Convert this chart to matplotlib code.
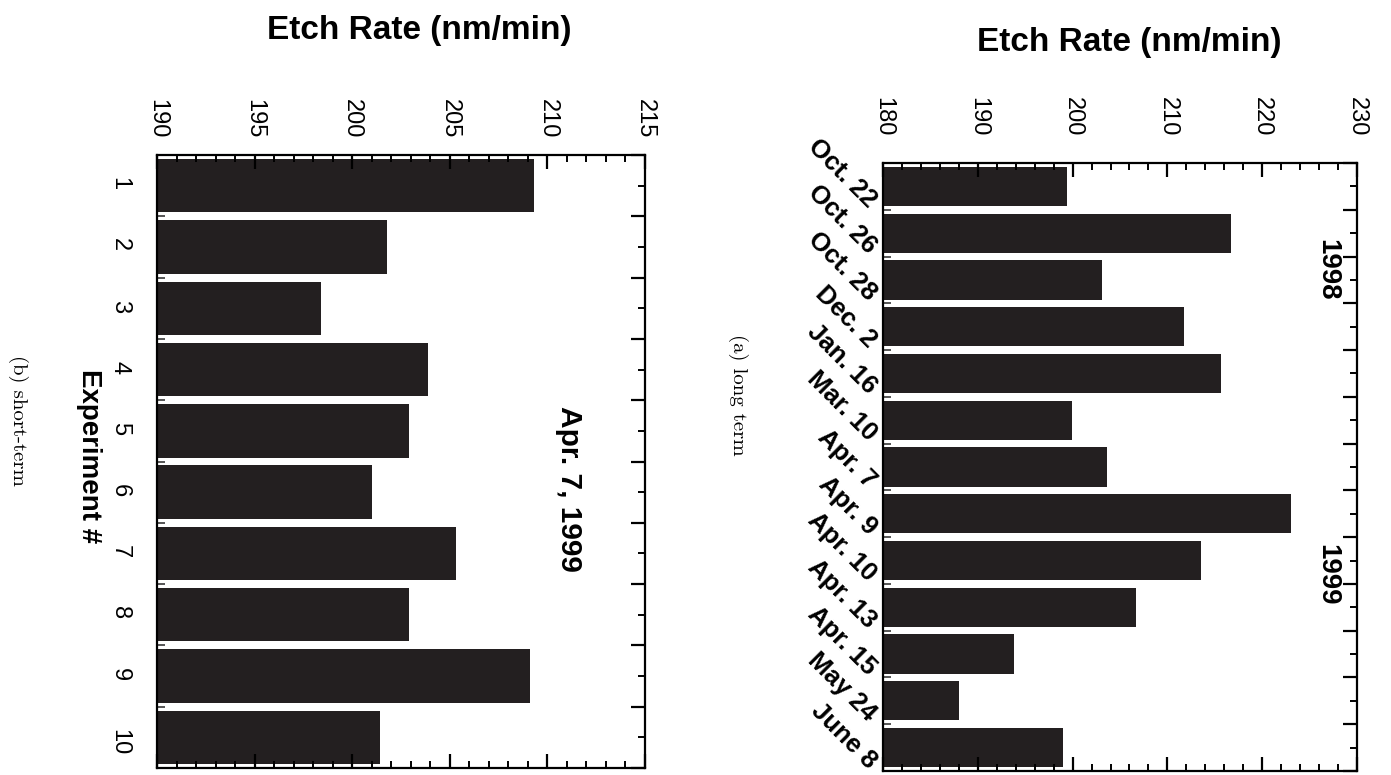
import matplotlib
matplotlib.use('Agg')
import matplotlib.pyplot as plt
import matplotlib.transforms as mtransforms
from matplotlib.ticker import MultipleLocator, FixedLocator

plt.rcParams['font.family'] = ['Liberation Sans', 'DejaVu Sans']

# ---------------- data ----------------
long_dates = ["Oct. 22", "Oct. 26", "Oct. 28", "Dec. 2", "Jan. 16", "Mar. 10",
              "Apr. 7", "Apr. 9", "Apr. 10", "Apr. 13", "Apr. 15", "May 24", "June 8"]
long_rates = [199.4, 216.7, 203.1, 211.8, 215.7, 199.9, 203.6,
              223.0, 213.5, 206.7, 193.8, 188.0, 199.0]
long_ticks = [180, 190, 200, 210, 220, 230]

short_exps = ["1", "2", "3", "4", "5", "6", "7", "8", "9", "10"]
short_rates = [209.3, 201.8, 198.4, 203.9, 202.9, 201.0, 205.3, 202.9, 209.1, 201.4]
short_ticks = [190, 195, 200, 205, 210, 215]

BAR = '#231f20'
W, H = 1391, 775
fig = plt.figure(figsize=(W / 100, H / 100), dpi=100)


def axes_px(l, t, r, b):
    return fig.add_axes([l / W, 1 - b / H, (r - l) / W, (b - t) / H])


def style_value_axis(ax, major, minor, pad):
    ax.xaxis.set_major_locator(FixedLocator(major))
    ax.xaxis.set_minor_locator(MultipleLocator(minor))
    ax.tick_params(axis='x', which='both', direction='in', top=True, bottom=True,
                   labeltop=True, labelbottom=False, labelrotation=-90,
                   labelsize=17, pad=pad)
    ax.tick_params(axis='x', which='major', length=10, width=1.6)
    ax.tick_params(axis='x', which='minor', length=5, width=1.4)
    for s in ax.spines.values():
        s.set_linewidth(1.6)


def right_ticks(ax, n):
    axr = ax.twinx()
    axr.set_ylim(ax.get_ylim())
    axr.yaxis.set_major_locator(FixedLocator([k - 0.5 for k in range(n + 1)]))
    axr.yaxis.set_minor_locator(FixedLocator(list(range(n))))
    axr.tick_params(axis='y', which='both', direction='in', labelright=False)
    axr.tick_params(axis='y', which='major', length=10, width=1.6)
    axr.tick_params(axis='y', which='minor', length=5, width=1.4)
    for s in axr.spines.values():
        s.set_visible(False)
    return axr


# ---------------- panel (a): long term ----------------
axa = axes_px(883, 163, 1357, 771)
na = len(long_rates)
axa.barh(range(na), long_rates, height=0.84, color=BAR)
axa.set_xlim(long_ticks[0], long_ticks[-1])
axa.set_ylim(na - 0.5, -0.5)
style_value_axis(axa, long_ticks, 2, 19)
axa.yaxis.set_major_locator(FixedLocator([]))
axa.yaxis.set_minor_locator(FixedLocator([k - 0.5 for k in range(na + 1)]))
axa.tick_params(axis='y', which='minor', direction='in', left=True, right=False,
                length=6, width=1.4, color='#555555')
right_ticks(axa, na)

trans_a = mtransforms.blended_transform_factory(axa.transAxes, axa.transData)
for i, lab in enumerate(long_dates):
    axa.text(-0.022, i + 0.36, lab, transform=trans_a, rotation=-45,
             rotation_mode='anchor', ha='right', va='center',
             fontsize=18.5, fontweight='bold')

axa.text(226.9, 1.79, '1998', rotation=-90, ha='center', va='center',
         fontsize=20, fontweight='bold')
axa.text(226.9, 8.3, '1999', rotation=-90, ha='center', va='center',
         fontsize=20, fontweight='bold')

fig.text(1129 / W, 1 - 42 / H, 'Etch Rate (nm/min)', ha='center', va='center',
         fontsize=24, fontweight='bold')
fig.text(738 / W, 1 - 395 / H, '(a) long term', rotation=-90, ha='center',
         va='center', fontsize=15, family='cmr10')

# ---------------- panel (b): short term ----------------
axb = axes_px(157, 155, 645, 768)
nb = len(short_rates)
axb.barh(range(nb), short_rates, height=0.87, color=BAR)
axb.set_xlim(short_ticks[0], short_ticks[-1])
axb.set_ylim(nb - 0.5, -0.5)
style_value_axis(axb, short_ticks, 1, 12)
axb.set_yticks(range(nb))
axb.set_yticklabels(short_exps)
axb.yaxis.set_minor_locator(FixedLocator([k - 0.5 for k in range(nb + 1)]))
axb.tick_params(axis='y', which='major', length=0, labelrotation=-90,
                labelsize=17, pad=19)
axb.tick_params(axis='y', which='minor', direction='in', left=True, right=False,
                length=6, width=1.4, color='#555555')
right_ticks(axb, nb)

axb.text(211.1, 4.95, 'Apr. 7, 1999', rotation=-90, ha='center', va='center',
         fontsize=21.5, fontweight='bold')

fig.text(419 / W, 1 - 30 / H, 'Etch Rate (nm/min)', ha='center', va='center',
         fontsize=24, fontweight='bold')
fig.text(89 / W, 1 - 456 / H, 'Experiment #', rotation=-90, ha='center',
         va='center', fontsize=20, fontweight='bold')
fig.text(18 / W, 1 - 420 / H, '(b) short-term', rotation=-90, ha='center',
         va='center', fontsize=15, family='cmr10')

fig.savefig('out.png', dpi=100)
